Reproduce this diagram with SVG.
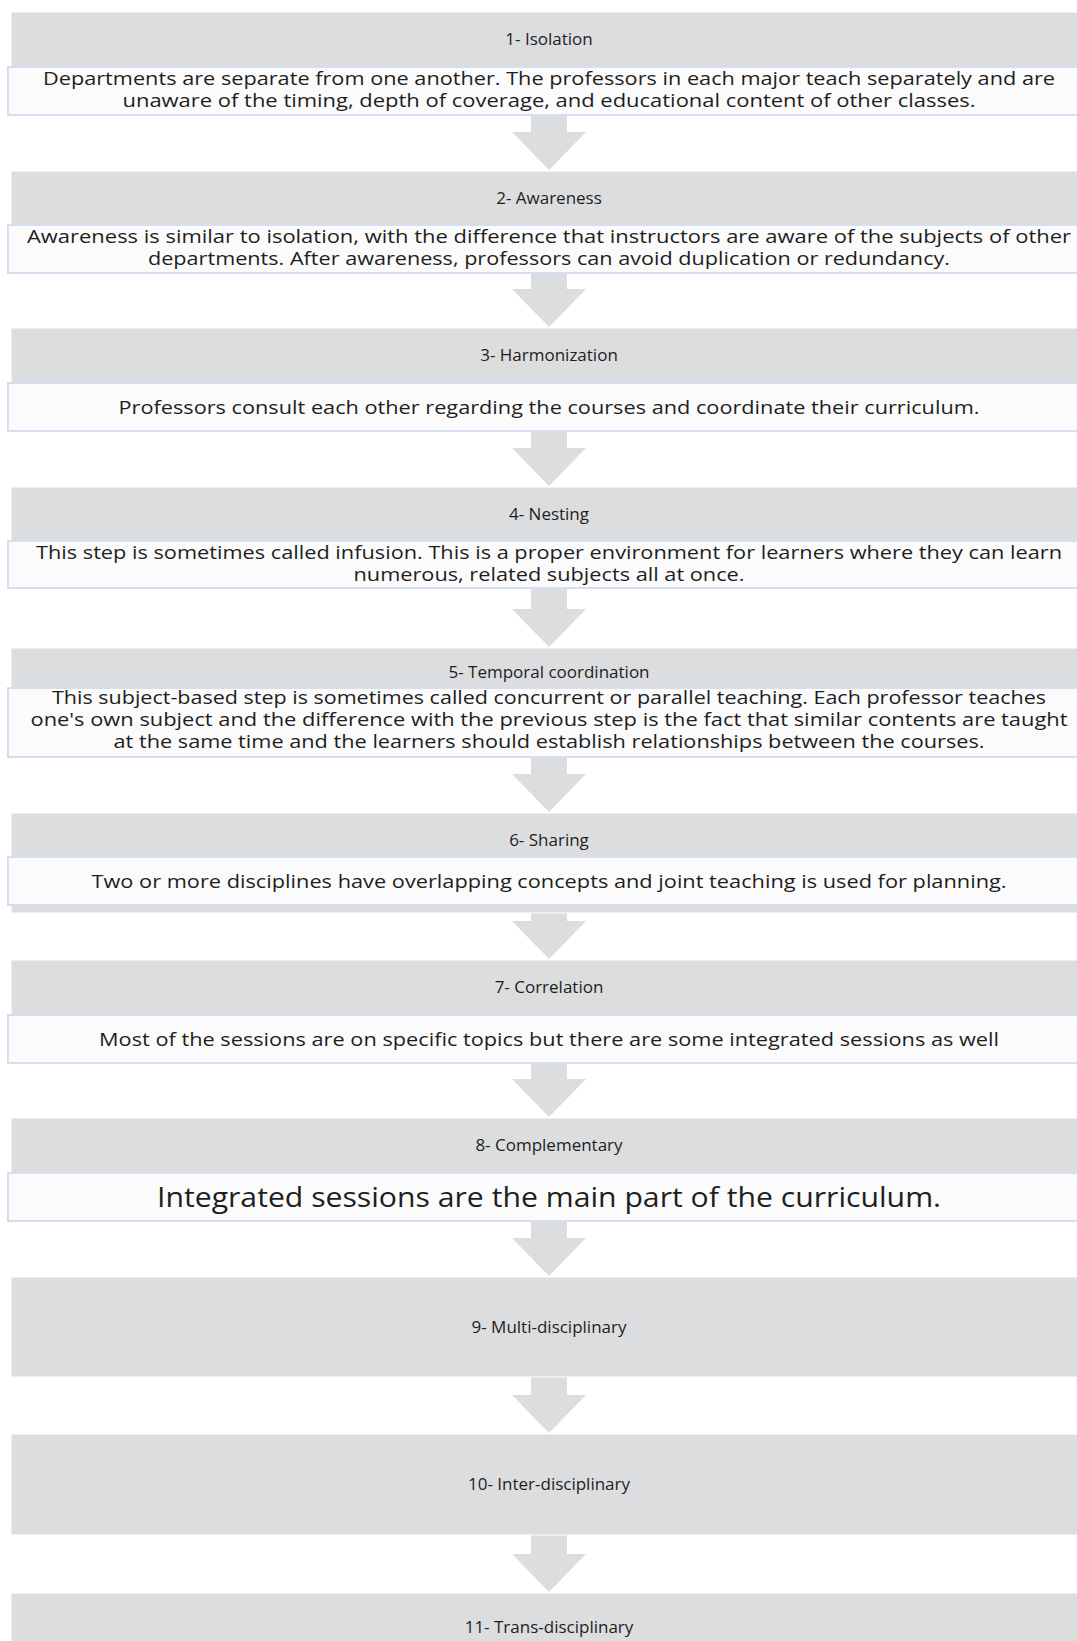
<svg xmlns="http://www.w3.org/2000/svg" width="1077" height="1641" viewBox="0 0 1077 1641">
<style>
.bg{fill:#DCDDDF;stroke:#FFFFFF;stroke-width:1}
.wb{fill:#FBFBFB;stroke:#D5DFEF;stroke-width:2}
.ar{fill:#DCDDDF}
text{font-family:"Open Sans","Liberation Sans",sans-serif;fill:#1E1E1E;text-anchor:middle}
.t{font-size:17px}
.b{font-size:19px}
.big{font-size:27px}
</style>
<rect width="1077" height="1641" fill="#FFFFFF"/>
<g id="connectors">
<path class="ar" d="M531,115 L567,115 L567,132 L586,132 L549,170 L512,132 L531,132 Z"/>
<path class="ar" d="M531,273 L567,273 L567,289 L586,289 L549,327 L512,289 L531,289 Z"/>
<path class="ar" d="M531,431 L567,431 L567,448 L586,448 L549,486 L512,448 L531,448 Z"/>
<path class="ar" d="M531,588 L567,588 L567,609 L586,609 L549,647 L512,609 L531,609 Z"/>
<path class="ar" d="M531,757 L567,757 L567,774 L586,774 L549,812 L512,774 L531,774 Z"/>
<path class="ar" d="M531,905 L567,905 L567,921 L586,921 L549,959 L512,921 L531,921 Z"/>
<path class="ar" d="M531,1063 L567,1063 L567,1079 L586,1079 L549,1117 L512,1079 L531,1079 Z"/>
<path class="ar" d="M531,1221 L567,1221 L567,1238 L586,1238 L549,1276 L512,1238 L531,1238 Z"/>
<path class="ar" d="M531,1377 L567,1377 L567,1395 L586,1395 L549,1433 L512,1395 L531,1395 Z"/>
<path class="ar" d="M531,1535 L567,1535 L567,1554 L586,1554 L549,1592 L512,1554 L531,1554 Z"/>
</g>
<g id="node1">
<rect class="bg" x="11" y="12" width="1076" height="100"/>
<text class="t" x="549" y="45">1- Isolation</text>
<rect class="wb" x="8" y="67" width="1082" height="48"/>
<text class="b" x="549" y="85" textLength="1012" lengthAdjust="spacingAndGlyphs">Departments are separate from one another. The professors in each major teach separately and are</text>
<text class="b" x="549" y="107" textLength="853" lengthAdjust="spacingAndGlyphs">unaware of the timing, depth of coverage, and educational content  of other classes.</text>
</g>
<g id="node2">
<rect class="bg" x="11" y="171" width="1076" height="100"/>
<text class="t" x="549" y="204">2- Awareness</text>
<rect class="wb" x="8" y="225" width="1082" height="48"/>
<text class="b" x="549" y="243" textLength="1044" lengthAdjust="spacingAndGlyphs">Awareness is similar to isolation, with the difference that instructors are aware of the subjects of other</text>
<text class="b" x="549" y="265" textLength="802" lengthAdjust="spacingAndGlyphs">departments. After awareness, professors can avoid duplication or redundancy.</text>
</g>
<g id="node3">
<rect class="bg" x="11" y="328" width="1076" height="100"/>
<text class="t" x="549" y="361">3- Harmonization</text>
<rect class="wb" x="8" y="383" width="1082" height="48"/>
<text class="b" x="549" y="414" textLength="861" lengthAdjust="spacingAndGlyphs">Professors consult each other regarding the courses and coordinate their curriculum.</text>
</g>
<g id="node4">
<rect class="bg" x="11" y="487" width="1076" height="100"/>
<text class="t" x="549" y="520">4- Nesting</text>
<rect class="wb" x="8" y="541" width="1082" height="47"/>
<text class="b" x="549" y="559" textLength="1026" lengthAdjust="spacingAndGlyphs">This step is sometimes called infusion. This is a proper environment for learners where they can learn</text>
<text class="b" x="549" y="581" textLength="391" lengthAdjust="spacingAndGlyphs">numerous, related subjects all at once.</text>
</g>
<g id="node5">
<rect class="bg" x="11" y="648" width="1076" height="100"/>
<text class="t" x="549" y="678">5- Temporal coordination</text>
<rect class="wb" x="8" y="688" width="1082" height="69"/>
<text class="b" x="549" y="704" textLength="994" lengthAdjust="spacingAndGlyphs">This subject-based step is sometimes called concurrent or parallel teaching. Each professor teaches</text>
<text class="b" x="549" y="726" textLength="1037" lengthAdjust="spacingAndGlyphs">one's own subject and the difference with the previous step is the fact that similar contents are taught</text>
<text class="b" x="549" y="748" textLength="871" lengthAdjust="spacingAndGlyphs">at the same time and the learners should establish relationships between the courses.</text>
</g>
<g id="node6">
<rect class="bg" x="11" y="813" width="1076" height="100"/>
<text class="t" x="549" y="846">6- Sharing</text>
<rect class="wb" x="8" y="857" width="1082" height="48"/>
<text class="b" x="549" y="888" textLength="915" lengthAdjust="spacingAndGlyphs">Two or more disciplines have overlapping concepts and joint teaching is used for planning.</text>
</g>
<g id="node7">
<rect class="bg" x="11" y="960" width="1076" height="100"/>
<text class="t" x="549" y="993">7- Correlation</text>
<rect class="wb" x="8" y="1015" width="1082" height="48"/>
<text class="b" x="549" y="1046" textLength="900" lengthAdjust="spacingAndGlyphs">Most of the sessions are on specific topics but there are some integrated sessions as well</text>
</g>
<g id="node8">
<rect class="bg" x="11" y="1118" width="1076" height="100"/>
<text class="t" x="549" y="1151">8- Complementary</text>
<rect class="wb" x="8" y="1173" width="1082" height="48"/>
<text class="big" x="549" y="1207" textLength="784" lengthAdjust="spacingAndGlyphs">Integrated sessions are the main part of the curriculum.</text>
</g>
<g id="node9">
<rect class="bg" x="11" y="1277" width="1076" height="100"/>
<text class="t" x="549" y="1333">9- Multi-disciplinary</text>
</g>
<g id="node10">
<rect class="bg" x="11" y="1434" width="1076" height="101"/>
<text class="t" x="549" y="1490">10- Inter-disciplinary</text>
</g>
<g id="node11">
<rect class="bg" x="11" y="1593" width="1076" height="100"/>
<text class="t" x="549" y="1633">11- Trans-disciplinary</text>
</g>
</svg>
